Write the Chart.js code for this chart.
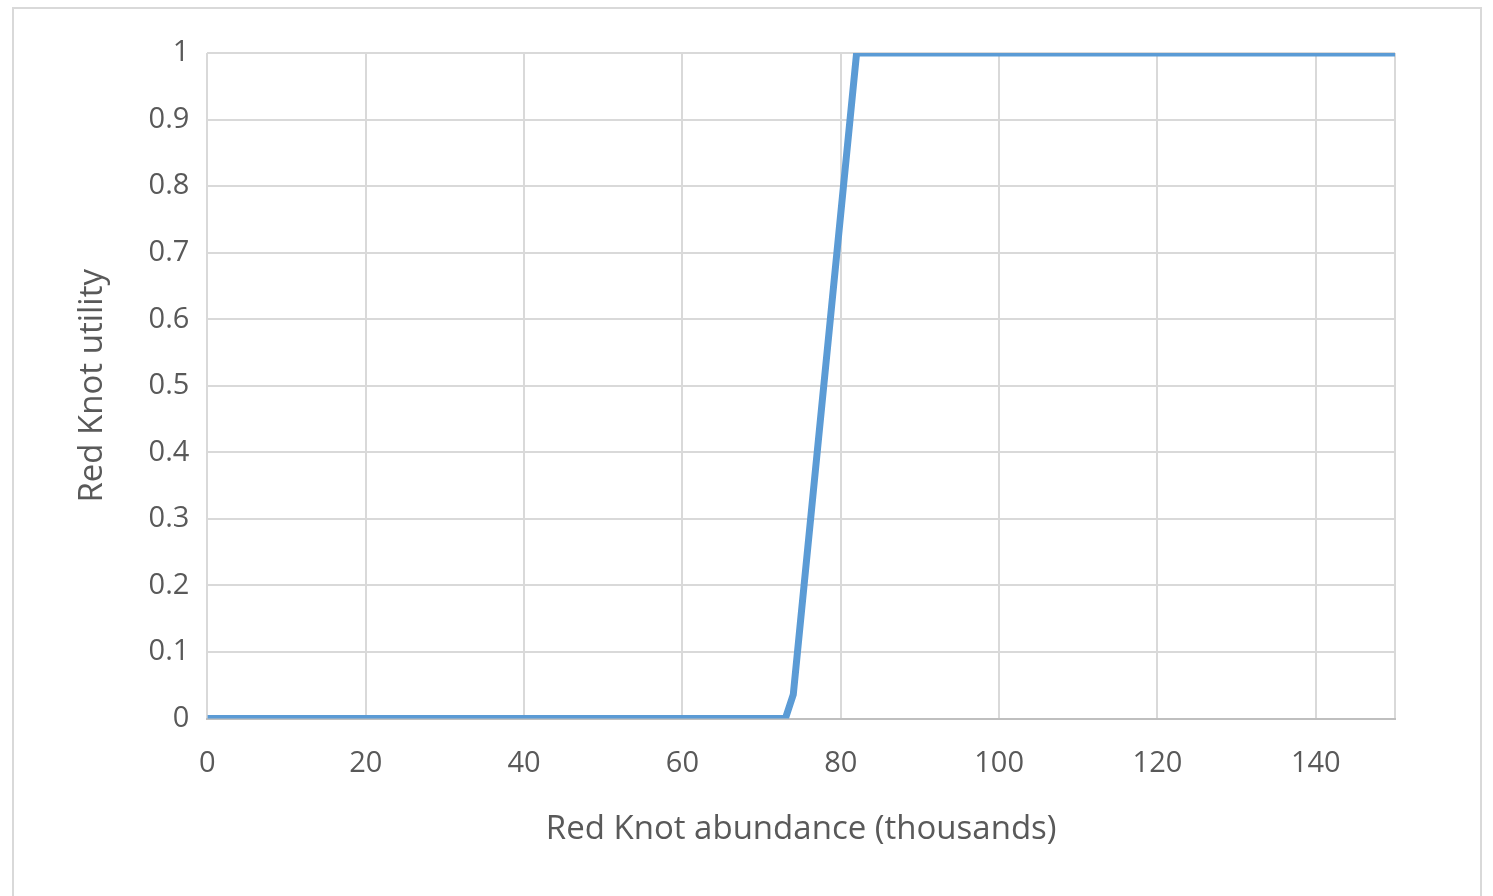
<!DOCTYPE html>
<html>
<head>
<script src="https://cdn.jsdelivr.net/npm/chart.js@4"></script>
<style>
body{margin:0;background:#fff}
#wrap{position:absolute;left:12px;top:7px;width:1470px;height:889px;border:2px solid #d9d9d9;border-bottom:none;box-sizing:border-box}
#c{position:absolute;left:0;top:0}
</style>
</head>
<body>
<div id="wrap"></div>
<canvas id="c" width="1493" height="896"></canvas>
<script>
// Red Knot utility curve
var abundance = [0, 73, 74, 82, 150];
var utility = [0, 0, 0.036, 1, 1];

var pts = abundance.map(function(x, i){ return {x: x, y: utility[i]}; });
var font = {family: 'Open Sans, Liberation Sans, sans-serif', size: 29};

new Chart(document.getElementById('c'), {
  type: 'scatter',
  data: {
    datasets: [{
      data: pts,
      showLine: true,
      borderColor: '#5b9bd5',
      borderWidth: 7,
      pointRadius: 0,
      tension: 0
    }]
  },
  options: {
    responsive: false,
    animation: false,
    layout: {padding: {left: 69, right: 98, top: 53, bottom: 47}},
    plugins: {legend: {display: false}, tooltip: {enabled: false}},
    scales: {
      x: {
        min: 0, max: 150,
        ticks: {stepSize: 20, color: '#595959', font: font, padding: 28,
          callback: function(v){ return v <= 140 ? v : ''; }},
        grid: {color: '#d9d9d9', lineWidth: 2, drawTicks: false},
        border: {color: '#bfbfbf', width: 2},
        title: {display: true, text: 'Red Knot abundance (thousands)', color: '#595959', font: {family: font.family, size: 33}, padding: {top: 0, bottom: 0}}
      },
      y: {
        min: 0, max: 1,
        ticks: {stepSize: 0.1, color: '#595959', font: font, padding: 18,
          callback: function(v){ return Math.round(v * 10) / 10 + ''; }},
        grid: {color: '#d9d9d9', lineWidth: 2, drawTicks: false},
        border: {display: false},
        title: {display: true, text: 'Red Knot utility', color: '#595959', font: {family: font.family, size: 33}, padding: {bottom: 18}}
      }
    }
  }
});
</script>
</body>
</html>
